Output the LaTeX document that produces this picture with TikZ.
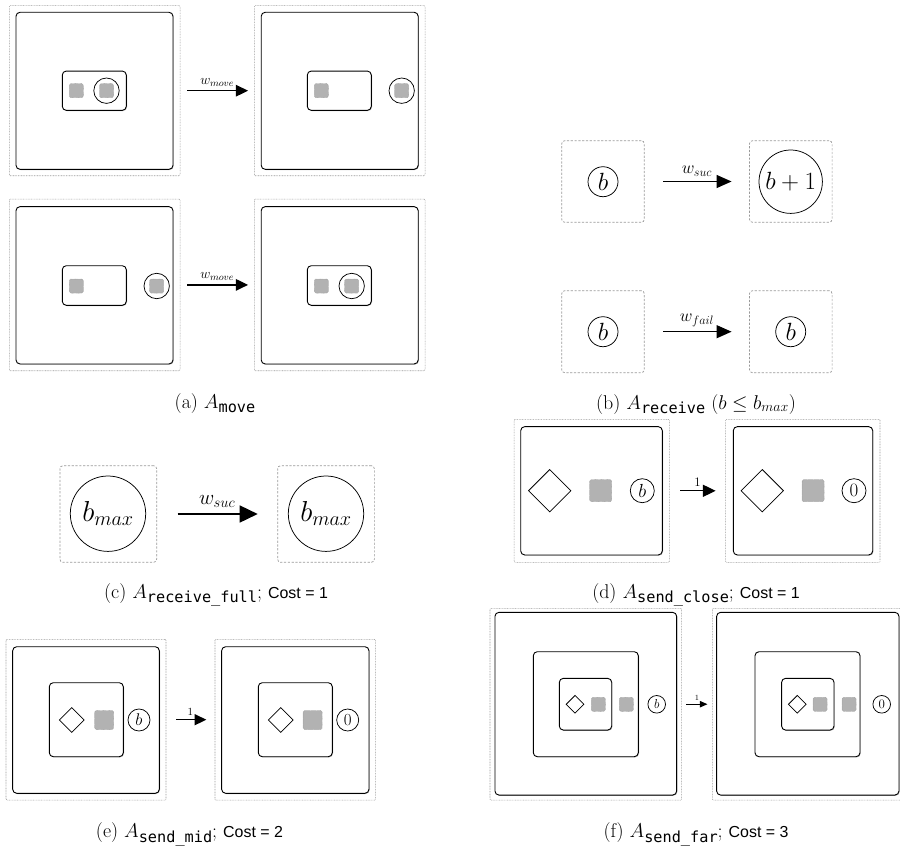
\RequirePackage{fix-cm}
\documentclass[tikz,border=0pt]{standalone}
\usepackage{amsmath}
\usepackage{fontspec}
\newfontfamily\monofont{DejaVu Sans Mono}
\newfontfamily\costfont{Liberation Sans}
\usetikzlibrary{arrows.meta,shapes.geometric,shadows}
\newcommand\capsub[1]{\raisebox{-4.8bp}{\fontsize{15.3}{16}\selectfont\monofont #1}}
\newcommand\costtxt[1]{{\costfont\fontsize{16}{16}\selectfont #1}}
\tikzset{
  outerdot/.style={draw=gray!80, dash pattern=on 0.8bp off 0.8bp, line width=0.6bp, inner sep=0, rounded corners=1bp},
  dashbox/.style={draw=gray!80, dash pattern=on 2.2bp off 1.6bp, line width=0.7bp, rounded corners=3bp, inner sep=0},
  solidbox/.style={draw=black, fill=white, line width=0.9bp, rounded corners=4bp, inner sep=0,
     drop shadow={shadow xshift=0.7bp, shadow yshift=-0.7bp, fill=gray!70, opacity=0.8}},
  graysq/.style={fill=gray!60, draw=gray!75, dash pattern=on 0.6bp off 0.6bp, line width=0.5bp, rounded corners=1.5bp, inner sep=0},
  token/.style={circle, draw, line width=0.75bp, inner sep=0},
  dia/.style={diamond, draw, line width=0.75bp, inner sep=0},
  arr/.style 2 args={-{Triangle[length=#1, width=#2]}},
  captxt/.style={anchor=base, font=\fontsize{20}{22}\selectfont},
}
\begin{document}
\begin{tikzpicture}[x=1bp,y=-1bp]
\useasboundingbox (0,0) rectangle (900,848);

% ---------------- (a) row 1
\node[outerdot,minimum width=170.7bp,minimum height=170bp] (a1L) at (94.7,90.7) {};
\node[solidbox,minimum width=157bp,minimum height=157bp] (a1Ls) at (94.5,90.8) {};
\node[solidbox,minimum width=64bp,minimum height=39.3bp] (a1Li) at (94.3,90.7) {};
\node[graysq,minimum size=14bp] (a1Lg1) at (76.3,90.7) {};
\node[token,minimum size=25.4bp] (a1Lc) at (106.5,90.7) {};
\node[graysq,minimum size=14bp] (a1Lg2) at (106.5,90.7) {};

\node[outerdot,minimum width=170.7bp,minimum height=170bp] (a1R) at (339.7,90.7) {};
\node[solidbox,minimum width=157bp,minimum height=157bp] (a1Rs) at (339.7,90.8) {};
\node[solidbox,minimum width=64bp,minimum height=39.3bp] (a1Ri) at (339.3,90.7) {};
\node[graysq,minimum size=14bp] (a1Rg1) at (321.3,90.7) {};
\node[token,minimum size=25.4bp] (a1Rc) at (401.7,90.7) {};
\node[graysq,minimum size=14bp] (a1Rg2) at (401.7,90.7) {};

\draw[arr={12.3bp}{11.7bp}, line width=1.2bp, shorten <=6.7bp, shorten >=6bp] (a1L) -- (a1R)
  node[midway, above=0.5bp, font=\fontsize{14}{14}\selectfont] (a1lab) {$w_{move}$};

% ---------------- (a) row 2
\node[outerdot,minimum width=170.7bp,minimum height=171.7bp] (a2L) at (94.7,284.9) {};
\node[solidbox,minimum width=157bp,minimum height=157.3bp] (a2Ls) at (94.5,285.3) {};
\node[solidbox,minimum width=64bp,minimum height=39.6bp] (a2Li) at (94.3,285.5) {};
\node[graysq,minimum size=14bp] (a2Lg1) at (76.3,286) {};
\node[token,minimum size=25.4bp] (a2Lc) at (156.7,286) {};
\node[graysq,minimum size=14bp] (a2Lg2) at (156.7,286) {};

\node[outerdot,minimum width=170.7bp,minimum height=171.7bp] (a2R) at (339.7,284.9) {};
\node[solidbox,minimum width=157bp,minimum height=157.3bp] (a2Rs) at (339.7,285.3) {};
\node[solidbox,minimum width=64bp,minimum height=39.6bp] (a2Ri) at (339.3,285.5) {};
\node[graysq,minimum size=14bp] (a2Rg1) at (321.3,286) {};
\node[token,minimum size=25.4bp] (a2Rc) at (351.7,286) {};
\node[graysq,minimum size=14bp] (a2Rg2) at (351.7,286) {};

\draw[arr={12.3bp}{11.7bp}, line width=1.2bp, shorten <=6.7bp, shorten >=6bp] (a2L) -- (a2R)
  node[midway, above=0.5bp, font=\fontsize{14}{14}\selectfont] (a2lab) {$w_{move}$};

\node[captxt] (capa) at (215,408) {(a) $A$\capsub{move}};

% ---------------- (b)
\node[dashbox,minimum width=82.6bp,minimum height=81.6bp] (b1L) at (603,181.5) {};
\node[token,minimum size=30bp,font=\fontsize{25}{25}\selectfont] (b1Lc) at (603,181.7) {$b$};
\node[dashbox,minimum width=82.6bp,minimum height=81.6bp] (b1R) at (790.8,181.5) {};
\node[token,minimum size=63.4bp,font=\fontsize{25}{25}\selectfont] (b1Rc) at (790.7,181.7) {$b+1$};
\draw[arr={15bp}{13bp}, line width=1.3bp, shorten <=18.4bp, shorten >=17.6bp] (b1L) -- (b1R)
  node[midway, above=1bp, font=\fontsize{17.5}{17.5}\selectfont] (b1lab) {$w_{suc}$};

\node[dashbox,minimum width=82.6bp,minimum height=82bp] (b2L) at (603,331.7) {};
\node[token,minimum size=30bp,font=\fontsize{25}{25}\selectfont] (b2Lc) at (603,331.7) {$b$};
\node[dashbox,minimum width=82.6bp,minimum height=82bp] (b2R) at (790.8,331.7) {};
\node[token,minimum size=30bp,font=\fontsize{25}{25}\selectfont] (b2Rc) at (790.7,331.7) {$b$};
\draw[arr={15bp}{13bp}, line width=1.3bp, shorten <=18.4bp, shorten >=17.6bp] (b2L) -- (b2R)
  node[midway, above=1bp, font=\fontsize{17.5}{17.5}\selectfont] (b2lab) {$w_{fail}$};

\node[captxt] (capb) at (696,409) {(b) $A$\capsub{receive} {\fontsize{20}{20}\selectfont$(b \le b_{max})$}};

% ---------------- (c)
\node[dashbox,minimum width=96.7bp,minimum height=96.6bp] (cL) at (108.3,514) {};
\node[token,minimum size=75.4bp,font=\fontsize{29}{29}\selectfont] (cLc) at (108,513.7) {$b_{max}$};
\node[dashbox,minimum width=96.7bp,minimum height=96.6bp] (cR) at (326,514) {};
\node[token,minimum size=75.4bp,font=\fontsize{29}{29}\selectfont] (cRc) at (326,513.7) {$b_{max}$};
\draw[arr={18bp}{17bp}, line width=1.6bp, shorten <=20.6bp, shorten >=19.6bp] (cL) -- (cR)
  node[midway, above=2bp, font=\fontsize{21}{21}\selectfont] (clab) {$w_{suc}$};

\node[captxt] (capc) at (216,598) {(c) $A$\capsub{receive\_full}; \costtxt{Cost = 1}};

% ---------------- (d)
\node[outerdot,minimum width=155.3bp,minimum height=143bp] (dL) at (591.7,490.8) {};
\node[solidbox,minimum width=141.6bp,minimum height=128.3bp] (dLs) at (591.5,490.8) {};
\node[dia,minimum size=42.6bp] (dLd) at (549.7,490.7) {};
\node[graysq,minimum size=22bp] (dLg) at (600.7,490.7) {};
\node[token,minimum size=24bp,font=\fontsize{19}{19}\selectfont] (dLc) at (642.3,490.7) {$b$};

\node[outerdot,minimum width=154.3bp,minimum height=143bp] (dR) at (802.8,490.8) {};
\node[solidbox,minimum width=139.4bp,minimum height=128.3bp] (dRs) at (803,490.8) {};
\node[dia,minimum size=42.6bp] (dRd) at (762.3,490.7) {};
\node[graysq,minimum size=22bp] (dRg) at (813,490.7) {};
\node[token,minimum size=24bp,font=\fontsize{19}{19}\selectfont] (dRc) at (854,490.7) {$0$};

\draw[arr={12.7bp}{12bp}, line width=1.2bp, shorten <=10.7bp, shorten >=9.7bp] (dL) -- (dR)
  node[midway, above=0.5bp, font=\fontsize{13}{13}\selectfont] (dlab) {$1$};

\node[captxt] (capd) at (696,598) {(d) $A$\capsub{send\_close}; \costtxt{Cost = 1}};

% ---------------- (e)
\node[outerdot,minimum width=160bp,minimum height=160.7bp] (eL) at (86,719.7) {};
\node[solidbox,minimum width=146.6bp,minimum height=146.6bp] (eLs) at (86,720) {};
\node[solidbox,minimum width=74bp,minimum height=74bp] (eLi) at (86.3,719.7) {};
\node[dia,minimum size=25bp] (eLd) at (71.7,720) {};
\node[graysq,minimum size=19bp] (eLg) at (104.2,720) {};
\node[token,minimum size=22bp,font=\fontsize{17}{17}\selectfont] (eLc) at (139,720) {$b$};

\node[outerdot,minimum width=160.7bp,minimum height=160.7bp] (eR) at (295.3,719.7) {};
\node[solidbox,minimum width=147.3bp,minimum height=146.6bp] (eRs) at (295.3,720) {};
\node[solidbox,minimum width=74bp,minimum height=74bp] (eRi) at (295.3,719.7) {};
\node[dia,minimum size=25bp] (eRd) at (280.7,720) {};
\node[graysq,minimum size=19bp] (eRg) at (312.7,720) {};
\node[token,minimum size=22bp,font=\fontsize{17}{17}\selectfont] (eRc) at (347.7,720) {$0$};

\draw[arr={11.7bp}{11bp}, line width=1.1bp, shorten <=9.7bp, shorten >=8.3bp] (eL) -- (eR)
  node[midway, above=0.5bp, font=\fontsize{11}{11}\selectfont] (elab) {$1$};

\node[captxt] (cape) at (189.5,837.5) {(e) $A$\capsub{send\_mid}; \costtxt{Cost = 2}};

% ---------------- (f)
\node[outerdot,minimum width=191.7bp,minimum height=191.7bp] (fL) at (585.8,704.2) {};
\node[solidbox,minimum width=181.7bp,minimum height=182.7bp] (fLs) at (585.8,703.7) {};
\node[solidbox,minimum width=105bp,minimum height=105bp] (fLm) at (585.8,704.2) {};
\node[solidbox,minimum width=52.4bp,minimum height=51.7bp] (fLi) at (585.5,704.2) {};
\node[dia,minimum size=18bp] (fLd) at (575,704.3) {};
\node[graysq,minimum size=14bp] (fLg1) at (598.3,704.3) {};
\node[graysq,minimum size=14bp] (fLg2) at (626.3,704.3) {};
\node[token,minimum size=17.6bp,font=\fontsize{13}{13}\selectfont] (fLc) at (656.7,704.3) {$b$};

\node[outerdot,minimum width=191.7bp,minimum height=191.7bp] (fR) at (808.2,704.2) {};
\node[solidbox,minimum width=182.3bp,minimum height=182.7bp] (fRs) at (807.8,703.7) {};
\node[solidbox,minimum width=105bp,minimum height=105bp] (fRm) at (807.5,704.2) {};
\node[solidbox,minimum width=52.4bp,minimum height=51.7bp] (fRi) at (807.8,704.2) {};
\node[dia,minimum size=18bp] (fRd) at (797.3,704.3) {};
\node[graysq,minimum size=14bp] (fRg1) at (820,704.3) {};
\node[graysq,minimum size=14bp] (fRg2) at (849,704.3) {};
\node[token,minimum size=17.6bp,font=\fontsize{13}{13}\selectfont] (fRc) at (881.7,704.3) {$0$};

\draw[arr={7.7bp}{6.5bp}, line width=0.9bp, shorten <=4.3bp, shorten >=4.6bp] (fL) -- (fR)
  node[midway, above=0bp, font=\fontsize{8}{8}\selectfont] (flab) {$1$};

\node[captxt] (capf) at (696,837.5) {(f) $A$\capsub{send\_far}; \costtxt{Cost = 3}};
\end{tikzpicture}
\end{document}
